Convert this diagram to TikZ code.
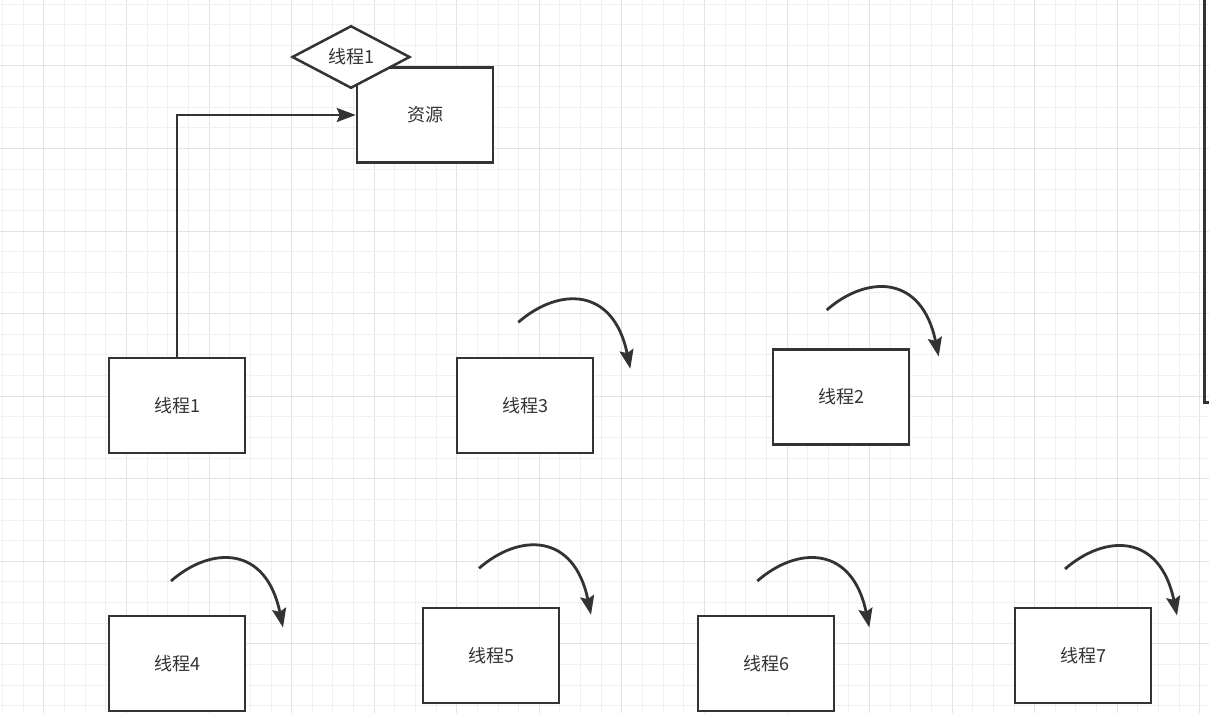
\documentclass[tikz,border=0pt]{standalone}
\usepackage{fontspec}
\newfontfamily\cjk{Noto Sans CJK SC}
\usetikzlibrary{arrows.meta,shapes.geometric,calc}
\definecolor{ink}{HTML}{333333}
\definecolor{gridminor}{HTML}{F0F0F0}
\definecolor{gridmajor}{HTML}{E2E2E2}
\newcommand\spinarc[1]{\draw[spin] (#1) .. controls ($(#1)+(40,-35)$) and ($(#1)+(95,-36)$) .. ($(#1)+(112,46.5)$);}
\begin{document}
\begin{tikzpicture}[x=1pt,y=-1pt,
  label font/.style={font=\cjk\fontsize{18}{21}\selectfont,text=ink},
  box/.style={draw=ink,line width=2.5pt,fill=white,minimum width=136pt,minimum height=95pt,inner sep=0pt,label font},
  dia/.style={diamond,draw=ink,line width=2.5pt,fill=white,minimum width=118pt,minimum height=62pt,inner sep=0pt,label font},
  link/.style={draw=ink,line width=2.3pt,-{Stealth[length=19pt,width=14pt,inset=3pt]}},
  spin/.style={draw=ink,line width=2.8pt,-{Stealth[length=19pt,width=14pt,inset=3pt]}},
  frame/.style={draw=ink,line width=2.5pt}
]
\path[use as bounding box] (0,0) rectangle (1209,713);
\clip (0,0) rectangle (1209,713);
\fill[white] (0,0) rectangle (1209,713);
% grid
\foreach \i in {0,...,58}{
  \pgfmathsetmacro\gx{2.7+20.64*\i}
  \pgfmathtruncatemacro\gm{mod(\i,4)}
  \ifnum\gm=2 \draw[gridmajor,line width=1pt] (\gx,0) -- (\gx,713);
  \else \draw[gridminor,line width=1pt] (\gx,0) -- (\gx,713); \fi
}
\foreach \j in {0,...,34}{
  \pgfmathsetmacro\gy{4+20.64*\j}
  \pgfmathtruncatemacro\gm{mod(\j,4)}
  \ifnum\gm=3 \draw[gridmajor,line width=1pt] (0,\gy) -- (1209,\gy);
  \else \draw[gridminor,line width=1pt] (0,\gy) -- (1209,\gy); \fi
}
% partial frame at right edge
\draw[frame] (1204.5,-20) rectangle (1260,402.5);
% nodes
\node[box] (res) at (425,115) {资源};
\node[dia] (d1) at (351,57) {线程1};
\node[box] (t1) at (177,405.5) {线程1};
\node[box] (t3) at (525,405.5) {线程3};
\node[box] (t2) at (841,397) {线程2};
\node[box] (t4) at (177,663.5) {线程4};
\node[box] (t5) at (491,655.5) {线程5};
\node[box] (t6) at (766,663.5) {线程6};
\node[box] (t7) at (1083,655.5) {线程7};
% connector
\draw[link] (t1.north) |- (res.west);
% curved arrows
\coordinate (a3) at (518.3,322.3);
\coordinate (a2) at (826.7,310);
\coordinate (a4) at (171,581);
\coordinate (a5) at (479,568.3);
\coordinate (a6) at (757.3,581);
\coordinate (a7) at (1065,569);
\spinarc{a3}
\spinarc{a2}
\spinarc{a4}
\spinarc{a5}
\spinarc{a6}
\spinarc{a7}
\end{tikzpicture}
\end{document}
